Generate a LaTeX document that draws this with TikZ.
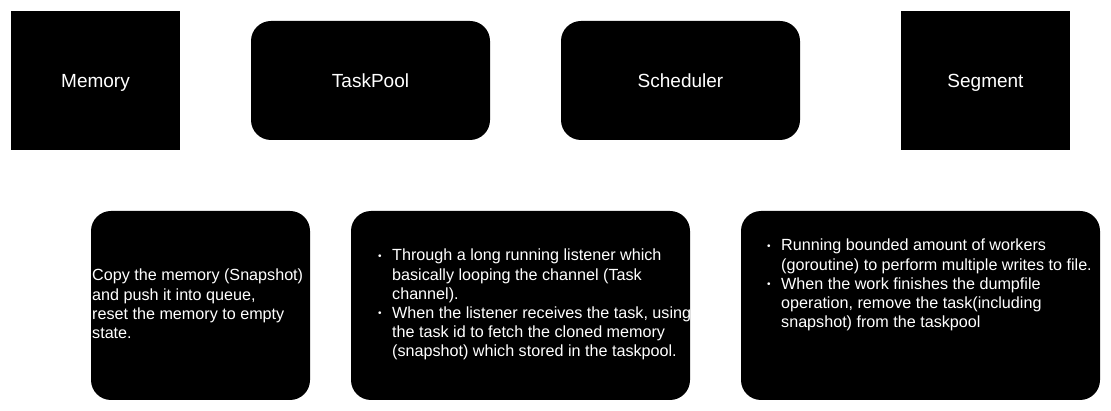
\documentclass[tikz,border=0pt]{standalone}
\usepackage{fontspec}
\setmainfont{Liberation Sans}
\newcommand{\bul}{\makebox[14pt][l]{\fontsize{10}{10}\selectfont\raisebox{1.6pt}{•}}}
\newcommand{\ind}{\hspace*{14pt}}
\begin{document}
\begin{tikzpicture}[x=1pt,y=-1pt,
  blk/.style={fill=black, draw=none, text=white, inner sep=0pt, text depth=0pt,
    font=\fontsize{19}{22.8}\selectfont},
  rblk/.style={blk, rounded corners=20pt},
  body/.style={text=white, font=\fontsize{16.15}{19.2}\selectfont,
    align=left, anchor=base west, inner sep=0pt}]
\useasboundingbox (0,0) rectangle (1111,411);
% top row
\node[blk, minimum width=169pt, minimum height=139pt] (memory) at (95.5,80.5) {Memory};
\node[rblk, minimum width=239pt, minimum height=119pt] (taskpool) at (370.5,80.5) {TaskPool};
\node[rblk, minimum width=239pt, minimum height=119pt] (scheduler) at (680.5,80.5) {Scheduler};
\node[blk, minimum width=169pt, minimum height=139pt] (segment) at (985.5,80.5) {Segment};
% bottom row
\node[rblk, minimum width=219pt, minimum height=189pt] (copybox) at (200.5,305.5) {};
\node[rblk, minimum width=339pt, minimum height=189pt] (listenbox) at (520.5,305.5) {};
\node[rblk, minimum width=359pt, minimum height=189pt] (workbox) at (920.5,305.5) {};
% text blocks (base anchor = baseline of the last line)
\node[body] (copytext) at (92,338.6) {Copy the memory (Snapshot)\\and push it into queue,\\reset the memory to empty\\state.};
\node[body] (listentext) at (378,357) {\bul Through a long running listener which\\\ind basically looping the channel (Task\\\ind channel).\\\bul When the listener receives the task, using\\\ind the task id to fetch the cloned memory\\\ind (snapshot) which stored in the taskpool.};
\node[body] (worktext) at (767,327.8) {\bul Running bounded amount of workers\\\ind (goroutine) to perform multiple writes to file.\\\bul When the work finishes the dumpfile\\\ind operation, remove the task(including\\\ind snapshot) from the taskpool};
\end{tikzpicture}
\end{document}
